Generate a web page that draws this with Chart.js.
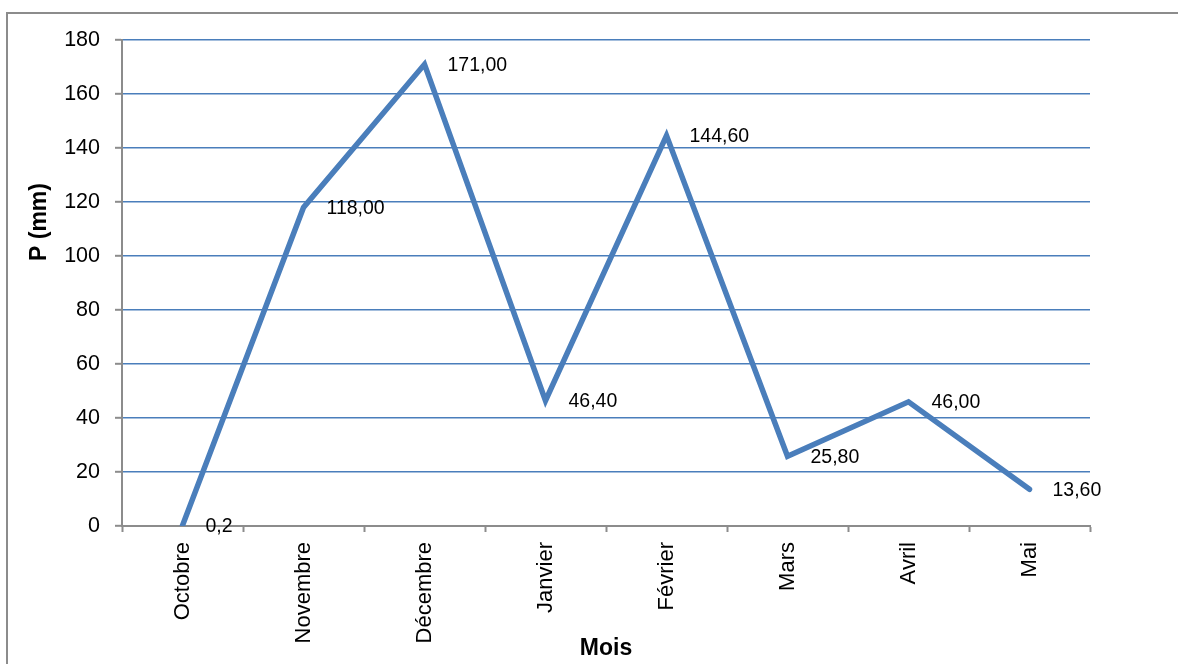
<!DOCTYPE html>
<html lang="fr">
<head>
<meta charset="utf-8">
<title>Précipitations mensuelles</title>
<script src="https://cdn.jsdelivr.net/npm/chart.js@4.4.1/dist/chart.umd.min.js"></script>
<style>
  html, body { margin: 0; padding: 0; background: #ffffff; }
  #wrap { width: 1178px; height: 664px; position: relative; }
</style>
</head>
<body>
<div id="wrap"><canvas id="pluie"></canvas></div>
<script>
// ===== Données =====
const mois = ["Octobre", "Novembre", "Décembre", "Janvier", "Février", "Mars", "Avril", "Mai"];
const pluie = [0.2, 118, 171, 46.4, 144.6, 25.8, 46, 13.6];
const decimales = [1, 2, 2, 2, 2, 2, 2, 2];   // nb de décimales affichées par étiquette
const ticksY = [0, 20, 40, 60, 80, 100, 120, 140, 160, 180];

const BLEU = "#4a7ebb";
const GRIS = "#8c8c8c";
const POLICE = "'Liberation Sans', Arial, sans-serif";

// ===== Cadre + titres d'axes + étiquettes de valeurs =====
const habillage = {
  id: "habillage",
  beforeDraw(chart) {
    const ctx = chart.ctx;
    ctx.save();
    ctx.strokeStyle = GRIS;
    ctx.lineWidth = 2;
    ctx.strokeRect(7, 13, 1300, 800);
    ctx.restore();
  },
  afterDatasetsDraw(chart) {
    const ctx = chart.ctx;
    const meta = chart.getDatasetMeta(0);
    ctx.save();
    ctx.fillStyle = "#000000";
    ctx.font = "19.5px " + POLICE;
    ctx.textAlign = "left";
    ctx.textBaseline = "middle";
    meta.data.forEach(function (pt, i) {
      const txt = pluie[i].toFixed(decimales[i]).replace(".", ",");
      ctx.fillText(txt, pt.x + 23, pt.y + 1);
    });

    // titres des axes
    ctx.font = "bold 23px " + POLICE;
    ctx.textAlign = "center";
    const area = chart.chartArea;
    ctx.fillText("Mois", (area.left + area.right) / 2, 649);
    ctx.translate(40, 222);
    ctx.rotate(-Math.PI / 2);
    ctx.fillText("P (mm)", 0, 0);
    ctx.restore();
  }
};

new Chart(document.getElementById("pluie"), {
  type: "line",
  data: {
    labels: mois,
    datasets: [{
      data: pluie,
      borderColor: BLEU,
      borderWidth: 5.5,
      borderJoinStyle: "miter",
      borderCapStyle: "round",
      pointRadius: 0,
      tension: 0,
      fill: false
    }]
  },
  options: {
    responsive: true,
    maintainAspectRatio: false,
    animation: false,
    layout: { padding: { top: 40, right: 88, bottom: 0, left: 0 } },
    plugins: {
      legend: { display: false },
      tooltip: { enabled: false }
    },
    scales: {
      x: {
        offset: true,
        afterFit: s => { s.height = 138; },
        grid: {
          drawOnChartArea: false,
          drawTicks: true,
          tickLength: 6,
          tickColor: GRIS,
          tickWidth: 2,
          offset: true
        },
        border: { color: GRIS, width: 2 },
        ticks: {
          color: "#000000",
          font: { family: POLICE, size: 22 },
          minRotation: 90,
          maxRotation: 90,
          padding: 10,
          autoSkip: false
        }
      },
      y: {
        min: 0,
        max: 180,
        afterFit: s => { s.width = 122; },
        afterBuildTicks: s => { s.ticks = ticksY.map(v => ({ value: v })); },
        grid: {
          color: BLEU,
          lineWidth: 1.6,
          tickLength: 7,
          tickColor: GRIS,
          tickWidth: 2
        },
        border: { color: GRIS, width: 2 },
        ticks: {
          color: "#000000",
          font: { family: POLICE, size: 21.5 },
          padding: 15
        }
      }
    }
  },
  plugins: [habillage]
});
</script>
</body>
</html>
